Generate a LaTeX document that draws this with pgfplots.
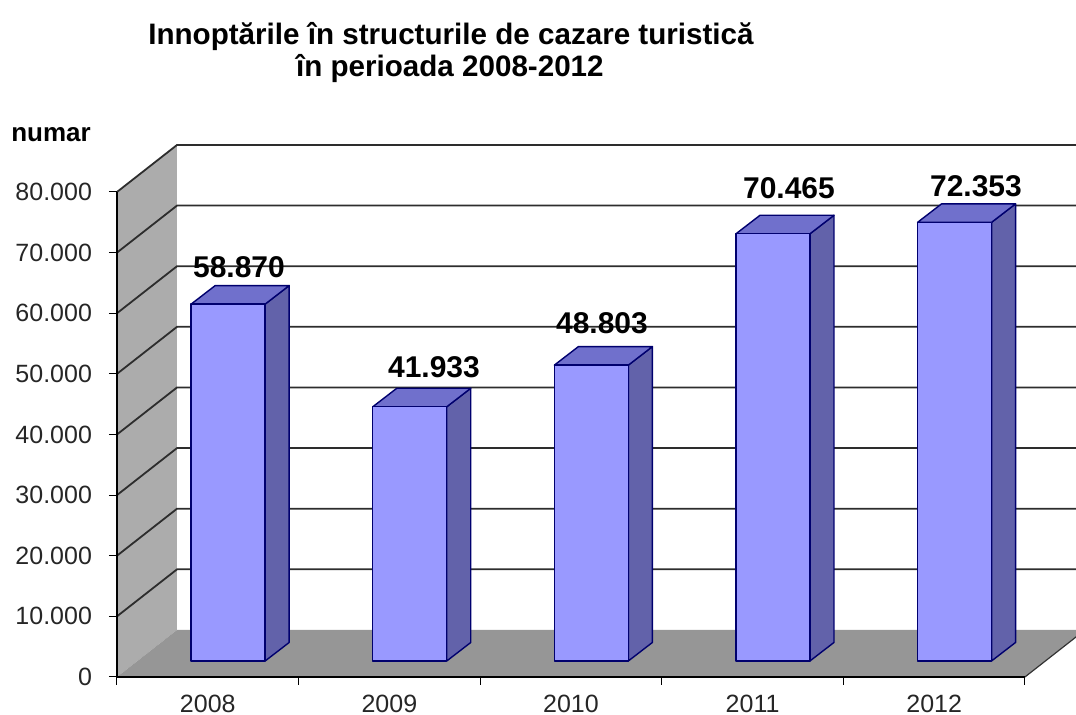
\documentclass[border=0pt]{standalone}
\usepackage{pgfplots}
\pgfplotsset{compat=1.18}
\usepackage{pgfplotstable}
\usepackage{fontspec}
\setmainfont{Liberation Sans}
\definecolor{barfront}{RGB}{153,153,255}
\definecolor{bartop}{RGB}{112,112,204}
\definecolor{barside}{RGB}{98,98,170}
\definecolor{barline}{RGB}{0,0,110}
\definecolor{wallgray}{RGB}{172,172,172}
\definecolor{floorgray}{RGB}{150,150,150}
\definecolor{gridc}{RGB}{45,45,45}

% values in thousands (58.870 = 58 870); lx, ly = label positions
\pgfplotstableread{
i v lx ly
0 58.870 0.1718 64.66
1 41.933 1.2456 48.16
2 48.803 2.1707 55.42
3 70.465 3.2004 77.69
4 72.353 4.2302 78.02
}\datatable

\def\hw{0.2037}
\def\ox{0.1123}
\def\oy{2.639}
\def\bx{0.1322}
\def\by{3.052}
\def\Dy{7.753}

\newcommand\drawbar[2]{%
  \pgfmathsetmacro\xa{#1-\hw+\ox}%
  \pgfmathsetmacro\xb{#1+\hw+\ox}%
  \pgfmathsetmacro\xc{#1-\hw+\ox+\bx}%
  \pgfmathsetmacro\xd{#1+\hw+\ox+\bx}%
  \pgfmathsetmacro\ya{\oy}%
  \pgfmathsetmacro\yb{#2+\oy}%
  \pgfmathsetmacro\yc{\oy+\by}%
  \pgfmathsetmacro\yd{#2+\oy+\by}%
  \edef\tmp{\noexpand\addplot[fill=barside, draw=barline, line width=0.7pt, line join=round] coordinates {(\xb,\ya) (\xd,\yc) (\xd,\yd) (\xb,\yb)} -- cycle;}\tmp
  \edef\tmp{\noexpand\addplot[fill=bartop, draw=barline, line width=0.7pt, line join=round] coordinates {(\xa,\yb) (\xb,\yb) (\xd,\yd) (\xc,\yd)} -- cycle;}\tmp
  \edef\tmp{\noexpand\addplot[fill=barfront, draw=barline, line width=0.7pt, line join=round] coordinates {(\xa,\ya) (\xb,\ya) (\xb,\yb) (\xa,\yb)} -- cycle;}\tmp
}

\begin{document}
\begin{tikzpicture}
\begin{axis}[
  scale only axis, width=454pt, height=242.5pt,
  xmin=-0.5, xmax=4.5, ymin=0, ymax=80,
  clip=false, axis on top,
  axis x line*=bottom, axis y line*=left,
  axis line style={line width=0.6pt, black},
  xtick={-0.5,0.5,1.5,2.5,3.5,4.5}, xticklabels={},
  extra x ticks={0,1,2,3,4}, extra x tick labels={2008,2009,2010,2011,2012},
  extra x tick style={major tick length=0pt, xticklabel style={yshift=-5.5pt}},
  ytick={0,10,...,80},
  yticklabels={0,10.000,20.000,30.000,40.000,50.000,60.000,70.000,80.000},
  yticklabel style={xshift=-5pt},
  tick align=outside, major tick length=4pt,
  tick style={black, line width=0.5pt},
  ticklabel style={font=\fontsize{12.5}{14}\selectfont, text=black!85},
]
% left wall
\addplot[fill=wallgray, draw=none] coordinates {(-0.5,0) (-0.5,80) (-0.1696,87.753) (-0.1696,7.753)} -- cycle;
% floor
\addplot[fill=floorgray, draw=none] coordinates {(-0.5,0) (4.5,0) (4.8304,7.753) (-0.1696,7.753)} -- cycle;
\addplot[black!80, line width=0.6pt] coordinates {(4.5,0) (4.8304,7.753)};
% gridlines (left wall + back wall)
\pgfplotsinvokeforeach{1,...,8}{%
  \pgfmathsetmacro\ga{#1*10}%
  \pgfmathsetmacro\gb{#1*10+\Dy}%
  \edef\tmp{\noexpand\addplot[gridc, line width=0.9pt] coordinates {(-0.5,\ga) (-0.1696,\gb) (4.8304,\gb)};}\tmp
}
% bars
\pgfplotsinvokeforeach{0,...,4}{%
  \pgfplotstablegetelem{#1}{v}\of\datatable
  \drawbar{#1}{\pgfplotsretval}
}
% value labels
\addplot[draw=none, mark=none, point meta=explicit symbolic,
  nodes near coords,
  every node near coord/.append style={font=\bfseries\fontsize{15}{17}\selectfont, text=black}]
  table[x=lx, y=ly, meta=v] {\datatable};
% titles
\node[font=\bfseries\fontsize{14.8}{17}\selectfont] at (axis cs:1.339,105.7) {Innoptările în structurile de cazare turistică};
\node[font=\bfseries\fontsize{14.8}{17}\selectfont] at (axis cs:1.333,100.3) {în perioada 2008-2012};
\node[font=\bfseries\fontsize{13}{15}\selectfont] at (axis cs:-0.863,89.4) {numar};
\coordinate (bbSW) at (axis cs:-1.1443,-6.268);
\coordinate (bbNE) at (axis cs:4.781,111.67);
\end{axis}
\pgfresetboundingbox
\path[use as bounding box] (bbSW) rectangle (bbNE);
\end{tikzpicture}
\end{document}
